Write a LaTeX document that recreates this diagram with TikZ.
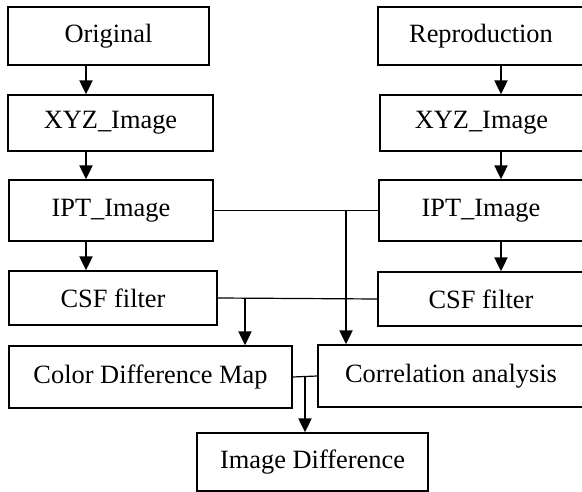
\documentclass[tikz,border=0pt]{standalone}
\usepackage{fontspec}
\setmainfont{Liberation Serif}
\usetikzlibrary{arrows.meta}
\tikzset{
    blk/.style={draw,line width=1.3pt,inner sep=0pt,align=center,
        font=\fontsize{26.4}{30}\selectfont},
    arr/.style={-{Triangle[length=14pt,width=13pt]},line width=2pt},
    lnk/.style={line width=1.2pt}
}
\begin{document}
\begin{tikzpicture}[x=1pt,y=-1pt]
  \useasboundingbox (0,0) rectangle (582,492);
  % left branch: original image
  \node[blk,minimum width=201pt,minimum height=58pt] (origL) at (108.5,36) {Original};
  \node[blk,minimum width=205pt,minimum height=56pt] (xyzL) at (110.5,123) {XYZ\_Image};
  \node[blk,minimum width=204pt,minimum height=61pt] (iptL) at (111,210.5) {IPT\_Image};
  \node[blk,minimum width=208pt,minimum height=54pt] (csfL) at (113,298) {CSF filter};
  % right branch: reproduction
  \node[blk,minimum width=206pt,minimum height=58pt] (repR) at (481,36) {Reproduction};
  \node[blk,minimum width=203pt,minimum height=56pt] (xyzR) at (481.5,123) {XYZ\_Image};
  \node[blk,minimum width=204pt,minimum height=61pt] (iptR) at (481,210.5) {IPT\_Image};
  \node[blk,minimum width=206pt,minimum height=54pt] (csfR) at (481,299) {CSF filter};
  % results
  \node[blk,minimum width=283pt,minimum height=62pt] (cdm) at (150.5,377) {Color Difference Map};
  \node[blk,minimum width=266pt,minimum height=62pt] (corr) at (451,376) {Correlation analysis};
  \node[blk,minimum width=231pt,minimum height=58pt] (imgd) at (312.5,462) {Image Difference};
  % columns of the arrows
  \coordinate (colL) at (86,0);
  \coordinate (colR) at (501,0);
  \coordinate (tapIPT) at (346,0);
  \coordinate (tapCSF) at (245,0);
  \coordinate (tapRes) at (305,0);
  % chains
  \draw[arr] (origL.south -| colL) -- (xyzL.north -| colL);
  \draw[arr] (xyzL.south -| colL) -- (iptL.north -| colL);
  \draw[arr] (iptL.south -| colL) -- (csfL.north -| colL);
  \draw[arr] (repR.south -| colR) -- (xyzR.north -| colR);
  \draw[arr] (xyzR.south -| colR) -- (iptR.north -| colR);
  \draw[arr] (iptR.south -| colR) -- (csfR.north -| colR);
  % joins
  \draw[lnk] (iptL.east) -- (iptR.west);
  \draw[arr] (iptL.east -| tapIPT) -- (corr.north -| tapIPT);
  \draw[lnk] (csfL.east) -- (csfR.west);
  \draw[arr] (csfL.east -| tapCSF) -- (cdm.north -| tapCSF);
  \draw[lnk] (cdm.east) -- (corr.west);
  \draw[arr] (cdm.east -| tapRes) -- (imgd.north -| tapRes);
\end{tikzpicture}
\end{document}
